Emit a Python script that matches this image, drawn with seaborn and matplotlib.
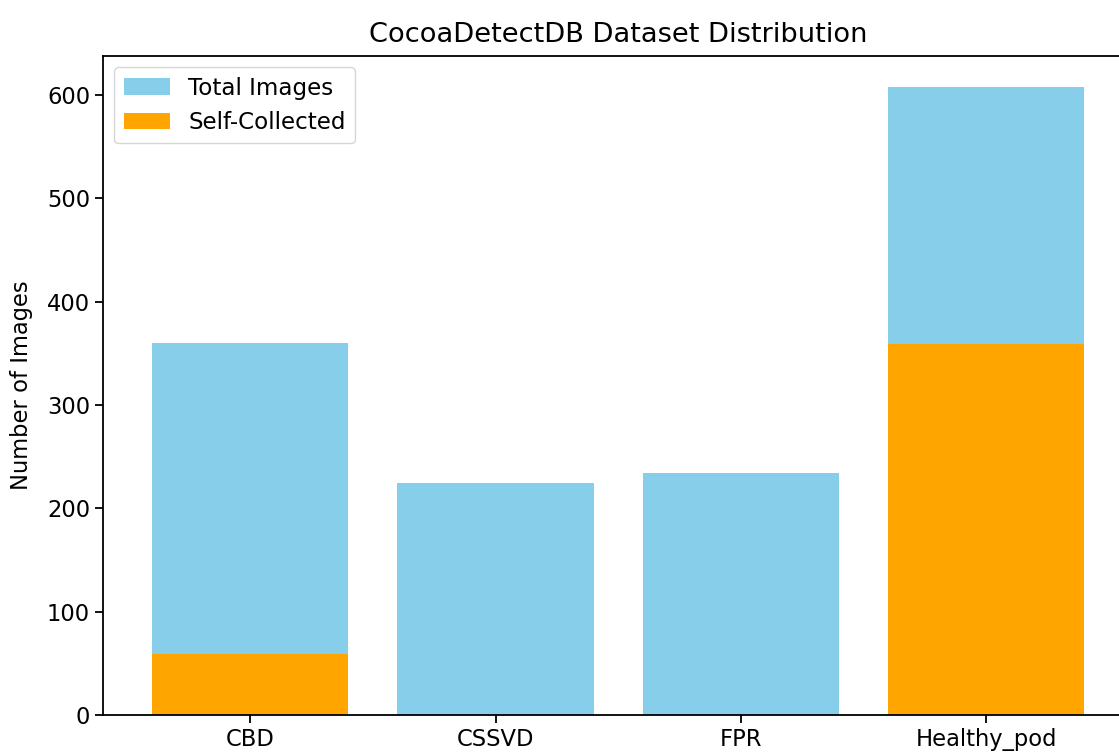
import matplotlib
matplotlib.use('Agg')
import matplotlib.pyplot as plt
import seaborn as sns

plt.rcParams['font.family'] = ['DejaVu Sans']
plt.rcParams['font.size'] = 16.3
plt.rcParams['axes.linewidth'] = 1.3
plt.rcParams['xtick.major.size'] = 5.7
plt.rcParams['ytick.major.size'] = 5.7
plt.rcParams['xtick.major.width'] = 1.3
plt.rcParams['ytick.major.width'] = 1.3

# data
categories = ['CBD', 'CSSVD', 'FPR', 'Healthy_pod']
total_images = [360, 224, 234, 608]
self_collected = [59, 0, 0, 359]

fig = plt.figure(figsize=(11.19, 7.54), dpi=100)
ax = fig.add_axes([0.092, 0.052, 0.921, 0.874])
sns.barplot(x=categories, y=total_images, color='skyblue', saturation=1,
            width=0.8, label='Total Images', ax=ax)
sns.barplot(x=categories, y=self_collected, color='orange', saturation=1,
            width=0.8, label='Self-Collected', ax=ax)
ax.set_xlim(-0.6, 3.6)
ax.set_ylim(0, 638)
ax.spines['right'].set_visible(False)
ax.set_ylabel('Number of Images', labelpad=10)
ax.set_title('CocoaDetectDB Dataset Distribution', fontsize=19.6, pad=9.8)
ax.legend(loc='upper left', fontsize=16.6)
fig.savefig('out.png', dpi=100)
